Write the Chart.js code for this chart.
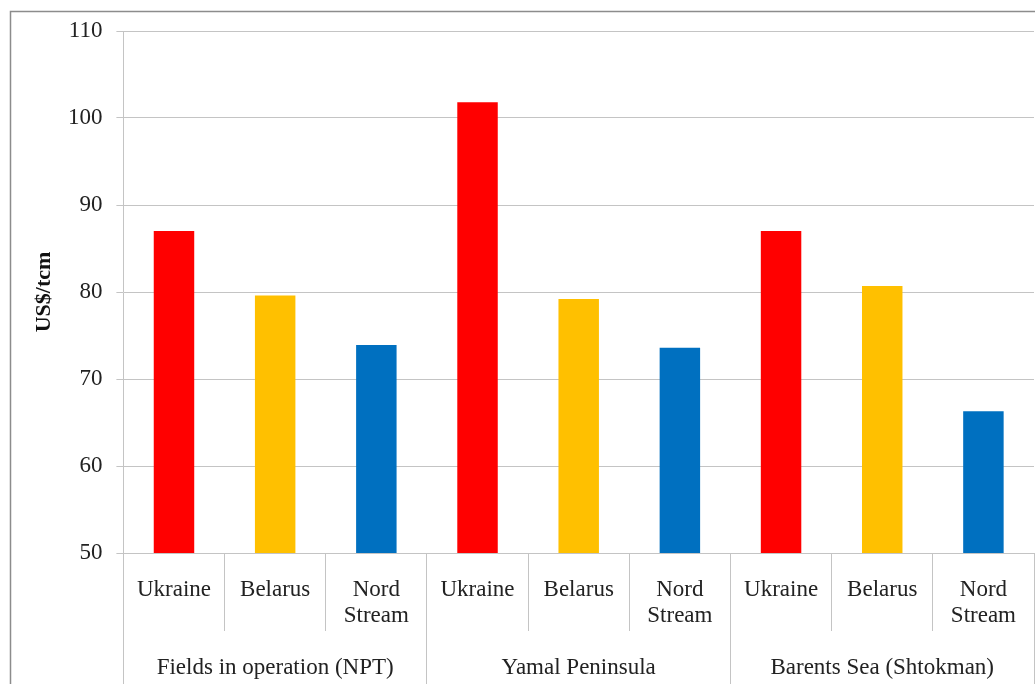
<!DOCTYPE html>
<html>
<head>
<meta charset="utf-8">
<script src="https://cdn.jsdelivr.net/npm/chart.js@4/dist/chart.umd.min.js"></script>
<style>
  body { margin: 0; background: #fff; }
  canvas { display: block; }
</style>
</head>
<body>
<canvas id="chart" width="1035" height="684"></canvas>
<script>
const routes = ['Ukraine', 'Belarus', ['Nord', 'Stream']];
const groups = ['Fields in operation (NPT)', 'Yamal Peninsula', 'Barents Sea (Shtokman)'];
const categories = [].concat(routes, routes, routes);
const costs = [87.0, 79.6, 73.9, 101.8, 79.2, 73.6, 87.0, 80.7, 66.3];
const yTicks = [50, 60, 70, 80, 90, 100, 110];

const routeColors = ['#ff0000', '#ffc000', '#0070c0'];
const font = 'Liberation Serif, Times New Roman, serif';
const gridColor = '#c4c4c4';

// grey frame round the chart (right/bottom edges fall outside the canvas)
const framePlugin = {
  id: 'frame',
  beforeDraw(chart) {
    const ctx = chart.ctx;
    ctx.save();
    ctx.fillStyle = '#fff';
    ctx.fillRect(0, 0, chart.width, chart.height);
    ctx.strokeStyle = '#8c8c8c';
    ctx.lineWidth = 1.5;
    ctx.strokeRect(10.5, 11.5, chart.width + 20, chart.height + 20);
    ctx.restore();
  }
};

new Chart(document.getElementById('chart'), {
  type: 'bar',
  data: {
    labels: categories,
    datasets: [{
      data: costs,
      backgroundColor: costs.map((v, i) => routeColors[i % 3]),
      barPercentage: 0.4,
      categoryPercentage: 1
    }]
  },
  options: {
    responsive: false,
    animation: false,
    layout: { padding: { top: 31, left: 10, right: 1, bottom: 0 } },
    plugins: { legend: { display: false }, tooltip: { enabled: false } },
    scales: {
      y: {
        min: 50,
        max: 110,
        afterBuildTicks: s => { s.ticks = yTicks.map(v => ({ value: v })); },
        afterFit: s => { s.width = 113.4; },
        grid: { color: gridColor, tickLength: 7, lineWidth: 1 },
        border: { color: gridColor },
        ticks: { font: { family: font, size: 23 }, color: '#222', padding: 14 },
        title: {
          display: true,
          text: 'US$/tcm',
          font: { family: font, size: 22, weight: 'bold' },
          color: '#111',
          padding: { top: 21, bottom: 0 }
        }
      },
      x: {
        weight: 0,
        afterFit: s => { s.height = 78; },
        grid: { drawOnChartArea: false, offset: true, tickLength: 78, color: gridColor },
        border: { display: false },
        ticks: {
          font: { family: font, size: 23, lineHeight: 1.13 },
          color: '#222',
          padding: -54,
          maxRotation: 0,
          autoSkip: false
        }
      },
      x2: {
        type: 'category',
        labels: groups,
        position: 'bottom',
        weight: 1,
        offset: true,
        afterFit: s => { s.height = 53; },
        grid: { drawOnChartArea: false, offset: true, tickLength: 53, color: gridColor },
        border: { display: false },
        ticks: {
          font: { family: font, size: 23, lineHeight: 1.13 },
          color: '#222',
          padding: -29,
          maxRotation: 0,
          autoSkip: false
        }
      }
    }
  },
  plugins: [framePlugin]
});
</script>
</body>
</html>
